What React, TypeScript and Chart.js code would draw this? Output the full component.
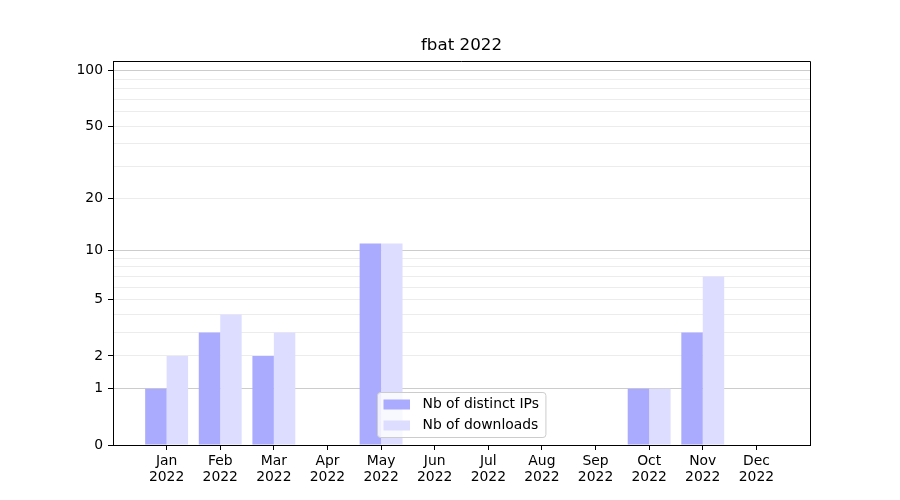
import React, { useEffect, useRef } from "react";
import { Chart, registerables } from "chart.js";

Chart.register(...registerables);

const months = ["Jan", "Feb", "Mar", "Apr", "May", "Jun", "Jul", "Aug", "Sep", "Oct", "Nov", "Dec"];
const year = "2022";
const chartTitle = "fbat 2022";
const seriesNames = ["Nb of distinct IPs", "Nb of downloads"];
const distinctIPs = [1, 3, 2, 0, 11, 0, 0, 0, 0, 1, 3, 0];
const downloads = [2, 4, 3, 0, 11, 0, 0, 0, 0, 1, 7, 0];
const yTickLabels = [0, 1, 2, 5, 10, 20, 50, 100];
const yMajorGrid = [1, 10, 100];
const yMinorGrid = [2, 3, 4, 5, 6, 7, 8, 9, 20, 30, 40, 50, 60, 70, 80, 90];
const yMaxValue = 113;

const colors = ["#aaaaff", "#ddddff"];
const FONT = "DejaVu Sans";

const tr = (v: number) => Math.log10(1 + v);

export default function App() {
  const ref = useRef<HTMLCanvasElement | null>(null);

  useEffect(() => {
    if (!ref.current) return;
    const labels = ["", ...months.map((m) => [m, year]), ""];
    const pad = (arr: number[]) => [null, ...arr.map(tr), null];

    const allY = Array.from(new Set([...yTickLabels, ...yMajorGrid, ...yMinorGrid])).sort((a, b) => a - b);

    const extras = {
      id: "extras",
      afterDraw(chart: any) {
        const { ctx, chartArea: a } = chart;
        ctx.save();
        // spines top/right
        ctx.strokeStyle = "#000";
        ctx.lineWidth = 1;
        ctx.beginPath();
        ctx.moveTo(a.left, Math.round(a.top) + 0.5);
        ctx.lineTo(Math.round(a.right) + 0.5, Math.round(a.top) + 0.5);
        ctx.lineTo(Math.round(a.right) + 0.5, a.bottom);
        ctx.stroke();
        // title
        ctx.fillStyle = "#000";
        ctx.font = `16.7px "${FONT}"`;
        ctx.textAlign = "center";
        ctx.textBaseline = "middle";
        ctx.fillText(chartTitle, (a.left + a.right) / 2, a.top - 15);
        // legend
        ctx.font = `13.9px "${FONT}"`;
        const tw = Math.max(...seriesNames.map((s) => ctx.measureText(s).width));
        const w = 6 + 26.5 + 12.5 + tw + 7;
        const h = 45;
        const cx = (a.left + a.right) / 2;
        const x0 = Math.round(cx - w / 2) + 0.5;
        const y0 = Math.round(a.bottom - 8 - h) + 0.5;
        ctx.beginPath();
        (ctx as any).roundRect(x0, y0, w, h, 3);
        ctx.fillStyle = "rgba(255,255,255,0.8)";
        ctx.fill();
        ctx.strokeStyle = "#cccccc";
        ctx.stroke();
        ctx.textAlign = "left";
        seriesNames.forEach((s, i) => {
          const cy = y0 + 12 + i * 21;
          ctx.fillStyle = colors[i];
          ctx.fillRect(x0 + 6, cy - 5, 26.5, 10);
          ctx.fillStyle = "#000";
          ctx.fillText(s, x0 + 6 + 26.5 + 12.5, cy);
        });
        ctx.restore();
      },
    };

    const chart = new Chart(ref.current, {
      type: "bar",
      data: {
        labels,
        datasets: [
          {
            label: seriesNames[0],
            data: pad(distinctIPs) as any,
            backgroundColor: colors[0],
            borderWidth: 0,
            categoryPercentage: 0.8,
            barPercentage: 1.0,
          },
          {
            label: seriesNames[1],
            data: pad(downloads) as any,
            backgroundColor: colors[1],
            borderWidth: 0,
            categoryPercentage: 0.8,
            barPercentage: 1.0,
          },
        ],
      },
      options: {
        animation: false,
        responsive: false,
        maintainAspectRatio: false,
        layout: { padding: { top: 61, right: 90, left: 0, bottom: 0 } },
        plugins: {
          legend: { display: false },
          tooltip: { enabled: false },
          title: { display: false },
        },
        scales: {
          x: {
            offset: false,
            grid: {
              offset: false,
              drawOnChartArea: false,
              drawTicks: true,
              tickLength: 5,
              tickColor: (c: any) => (c.index === 0 || c.index === labels.length - 1 ? "rgba(0,0,0,0)" : "#000"),
              tickWidth: 1,
            },
            border: { display: true, color: "#000", width: 1 },
            ticks: {
              color: "#000",
              font: { family: FONT, size: 13.9, lineHeight: 1.15 },
              padding: 3,
              maxRotation: 0,
              autoSkip: false,
            },
            afterFit: (s: any) => {
              s.height = 55;
            },
          },
          y: {
            type: "linear",
            min: 0,
            max: tr(yMaxValue),
            z: 1,
            afterBuildTicks: (s: any) => {
              s.ticks = allY.map((v) => ({ value: tr(v) }));
            },
            grid: {
              drawTicks: true,
              tickLength: 5,
              color: (c: any) => {
                const v = allY[c.index];
                if (v === 0 || v === undefined) return "rgba(0,0,0,0)";
                return yMajorGrid.includes(v) ? "#cccccc" : "#ececec";
              },
              lineWidth: 1,
              tickColor: (c: any) => (yTickLabels.includes(allY[c.index]) ? "#000" : "rgba(0,0,0,0)"),
              tickWidth: 1,
            },
            border: { display: true, color: "#000", width: 1 },
            ticks: {
              color: "#000",
              font: { family: FONT, size: 13.9 },
              padding: 5,
              autoSkip: false,
              callback: (_v: any, i: number) => {
                const v = allY[i];
                return yTickLabels.includes(v) ? String(v) : "";
              },
            },
            afterFit: (s: any) => {
              s.width = 113;
            },
          },
        },
      },
      plugins: [extras],
    } as any);
    return () => chart.destroy();
  }, []);

  return (
    <div style={{ position: "fixed", left: 0, top: 0, width: 900, height: 500, background: "#fff" }}>
      <canvas ref={ref} width={900} height={500} style={{ width: 900, height: 500 }} />
    </div>
  );
}
